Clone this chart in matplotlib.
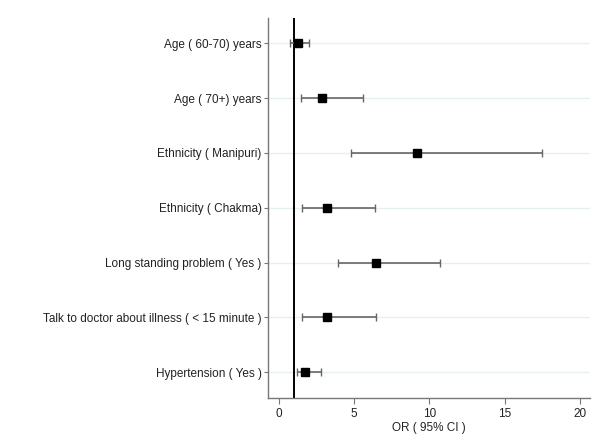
import numpy as np
import matplotlib.pyplot as plt

plt.rcParams['font.family'] = ['Liberation Sans', 'DejaVu Sans']

labels = ['Age ( 60-70) years', 'Age ( 70+) years', 'Ethnicity ( Manipuri)',
          'Ethnicity ( Chakma)', 'Long standing problem ( Yes )',
          'Talk to doctor about illness ( < 15 minute )', 'Hypertension ( Yes )']
odds = [1.25, 2.85, 9.15, 3.2, 6.45, 3.2, 1.7]
lower = [0.75, 1.45, 4.8, 1.55, 3.9, 1.5, 1.2]
upper = [2.0, 5.6, 17.5, 6.4, 10.7, 6.45, 2.8]

odds = np.array(odds)
err = np.array([odds - np.array(lower), np.array(upper) - odds])
pos = np.arange(len(labels))

fig = plt.figure(figsize=(6.06, 4.4), dpi=100)
ax = fig.add_axes([0.443, 0.0955, 0.531, 0.8635])

# light horizontal guides
for p in pos:
    ax.axhline(p, color='#e6f0f2', lw=1.0, zorder=0)

ax.errorbar(odds, pos, xerr=err, fmt='s', color='black', ms=6,
            ecolor='#666666', elinewidth=1.2, capsize=3, capthick=1.0, zorder=3)
ax.axvline(1, color='black', lw=1.4, zorder=2)

ax.set_yticks(pos)
ax.set_yticklabels(labels, fontsize=8.5, color='#222222')
ax.set_ylim(6.47, -0.46)
ax.set_xlim(-0.7, 20.7)
ax.set_xticks([0, 5, 10, 15, 20])
ax.tick_params(axis='x', labelsize=8.5, colors='#222222', length=4, pad=3, color='#777777')
ax.tick_params(axis='y', length=3, pad=2, color='#777777')
ax.set_xlabel('OR ( 95% CI )', fontsize=8.5, color='#222222', labelpad=2)

for s in ['top', 'right']:
    ax.spines[s].set_visible(False)
for s in ['left', 'bottom']:
    ax.spines[s].set_color('#777777')
    ax.spines[s].set_linewidth(1.0)

fig.savefig('out.png', dpi=100)
